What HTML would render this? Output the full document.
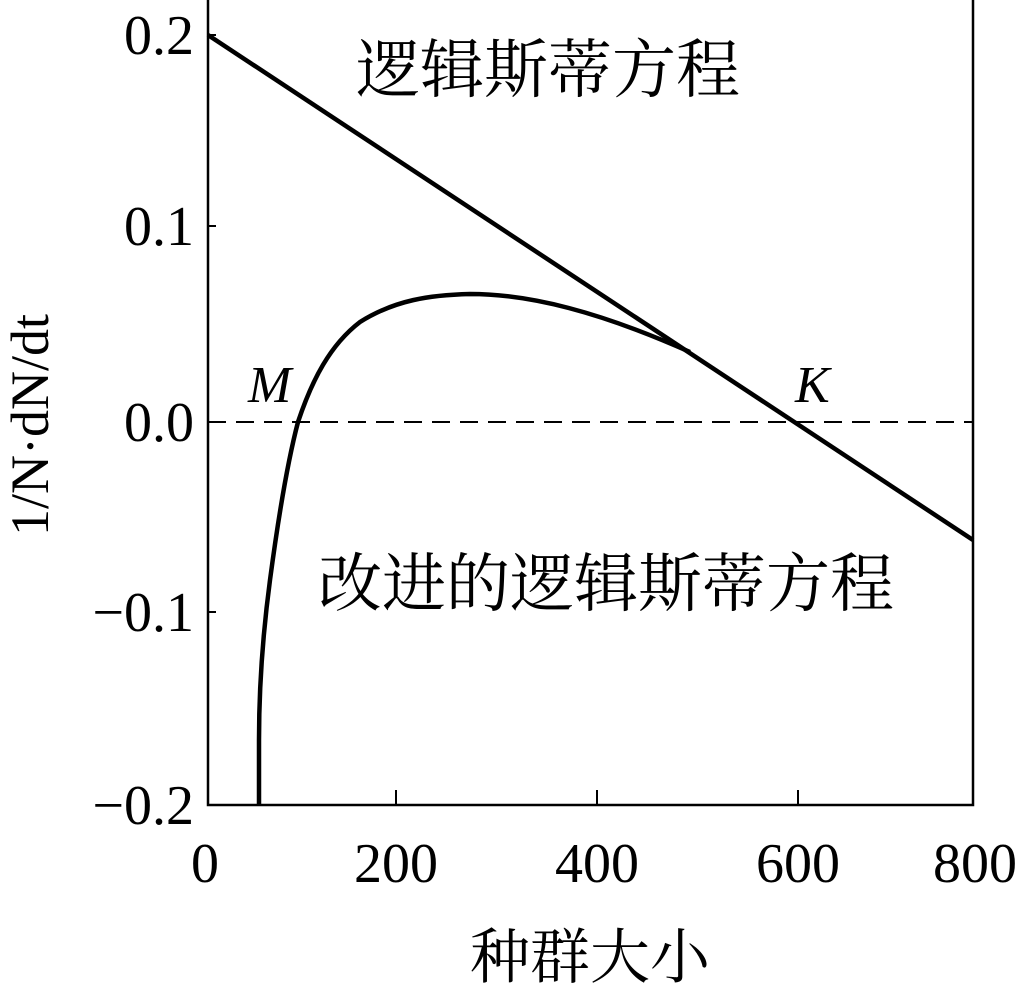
<!DOCTYPE html>
<html><head><meta charset="utf-8"><style>html,body{margin:0;padding:0;background:#fff}</style></head>
<body>
<svg width="1024" height="992" viewBox="0 0 1024 992" xmlns="http://www.w3.org/2000/svg" font-family="'Liberation Serif','Noto Serif CJK SC',serif">
<rect x="208" y="-5" width="765" height="810" fill="none" stroke="#000" stroke-width="2.5"/>
<g stroke="#000" stroke-width="2">
<line x1="208" y1="35" x2="216" y2="35"/><line x1="208" y1="226" x2="216" y2="226"/><line x1="208" y1="422" x2="216" y2="422"/><line x1="208" y1="612" x2="216" y2="612"/>
<line x1="396" y1="805" x2="396" y2="790"/><line x1="597" y1="805" x2="597" y2="790"/><line x1="798" y1="805" x2="798" y2="790"/>
</g>
<line x1="208" y1="422" x2="973" y2="422" stroke="#000" stroke-width="2" stroke-dasharray="18,10"/>
<line x1="208" y1="35" x2="973" y2="540" stroke="#000" stroke-width="4.5"/>
<path d="M259,805 L259,740 C259,690 262,640 270,580 C278,520 288,460 298,422 C312,380 330,345 360,322 C395,300 430,295 470,294 C530,294 600,312 690,352" fill="none" stroke="#000" stroke-width="4.5"/>
<g font-size="56" text-anchor="end" fill="#000">
<text x="194" y="54">0.2</text><text x="194" y="245">0.1</text><text x="194" y="441">0.0</text><text x="194" y="631">−0.1</text><text x="194" y="824">−0.2</text>
</g>
<g font-size="56" text-anchor="middle" fill="#000">
<text x="205" y="882">0</text><text x="396" y="882">200</text><text x="597" y="882">400</text><text x="798" y="882">600</text><text x="975" y="882">800</text>
</g>
<text x="590" y="978" font-size="60" text-anchor="middle">种群大小</text>
<text transform="translate(48,425) rotate(-90)" font-size="54" text-anchor="middle">1/N·dN/dt</text>
<text x="356" y="92" font-size="64">逻辑斯蒂方程</text>
<text x="318" y="606" font-size="64">改进的逻辑斯蒂方程</text>
<text x="248" y="402" font-size="52" font-style="italic">M</text>
<text x="795" y="402" font-size="52" font-style="italic">K</text>
</svg>
</body></html>
